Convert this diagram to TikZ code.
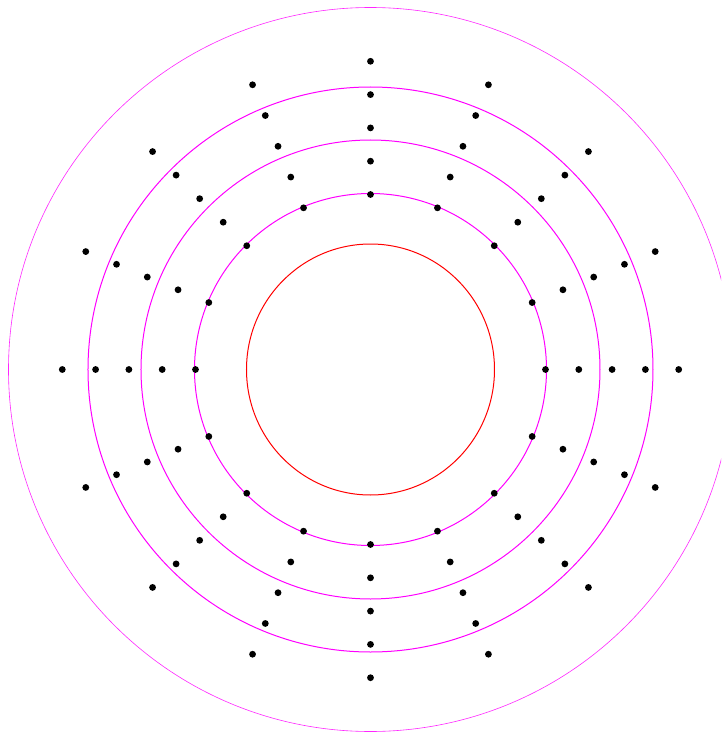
\documentclass[tikz,border=0pt]{standalone}
\usepackage{xcolor}
\usepackage{tikz}
\definecolor{ringmag}{HTML}{FF00FF}
\definecolor{corered}{HTML}{FF0000}
\tikzset{
  ring/.style={ringmag, line width=1pt},
  outerring/.style={ringmag!85, line width=0.6pt},
  probe/.style={fill=black}
}

\begin{document}
\begin{tikzpicture}[x=1pt,y=1pt]
  \clip (-370.5,-367.5) rectangle (350.5,369.5);
  \draw[corered, line width=1pt] (0,0) ellipse [x radius=124, y radius=125.5];
  \foreach \r in {176,229.5,282.5}
    \draw[ring] (0,0) circle (\r);
  \draw[outerring] (0,0) circle (362);
  \foreach \k in {0,...,4}
    \foreach \a in {0,22.5,...,337.5}
      \fill[probe] (\a:{175+33.3*\k}) circle (3.4);
\end{tikzpicture}
\end{document}
